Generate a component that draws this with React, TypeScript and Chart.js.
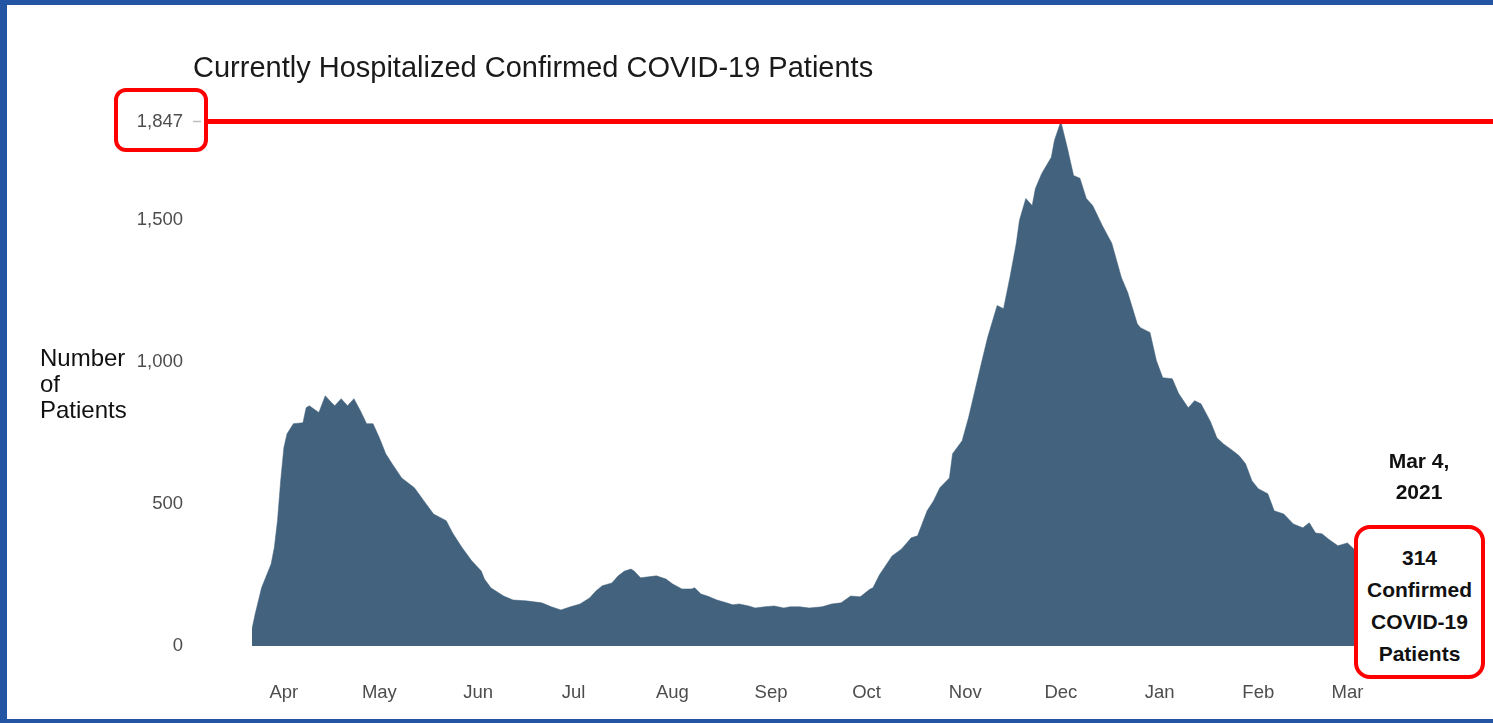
import React, { useEffect, useRef } from 'react';
import { Chart, registerables } from 'chart.js';

Chart.register(...registerables);

// Days counted from 2020-04-01 (day 0); data starts 2020-03-22, ends 2021-03-04
const dayOfSeason = [
  -10, -9, -7, -4, -3, -2, -1, 0, 1, 3, 6, 7, 8, 11, 13, 15, 16, 18, 20, 22, 24, 26, 28, 30, 32, 34, 37, 41, 44, 47,
  51, 53, 56, 59, 62, 63, 65, 69, 72, 76, 81, 84, 87, 90, 93, 96, 98, 100, 103, 105, 107, 109, 110, 112, 114,
  117, 120, 122, 125, 128, 129, 131, 133, 136, 139, 141, 143, 146, 148, 151, 154, 157, 159, 162, 165, 169, 172,
  175, 178, 181, 184, 185, 187, 191, 194, 197, 199, 202, 204, 206, 209, 210, 213, 215, 217, 219, 221, 224, 226,
  228, 230, 231, 233, 235, 236, 238, 241, 242, 244, 246, 248, 250, 252, 254, 257, 260, 263, 265, 268, 269, 272,
  274, 276, 279, 281, 284, 286, 288, 291, 293, 295, 298, 300, 302, 304, 306, 309, 311, 314, 317, 320, 322, 324,
  326, 328, 331, 334, 336, 337,
];

const hospitalized = [
  60, 113, 205, 289, 346, 441, 582, 698, 747, 783, 786, 839, 846, 822, 881, 857, 846, 871, 846, 871, 829, 783, 783, 733, 677, 642, 592, 557, 511, 465,
  441, 398, 346, 300, 264, 236, 205, 176, 162, 159, 152, 138, 127, 138, 148, 169, 194, 212, 222, 247, 264, 271, 264, 240, 243,
  247, 236, 219, 201, 201, 205, 183, 176, 162, 152, 145, 148, 141, 134, 138, 141, 134, 138, 138, 134, 138, 148,
  152, 176, 173, 200, 205, 250, 317, 342, 381, 388, 476, 511, 557, 592, 677, 723, 804, 899, 994, 1086, 1199, 1188,
  1298, 1418, 1499, 1576, 1551, 1611, 1664, 1721, 1781, 1847, 1756, 1657, 1647, 1576, 1551, 1481, 1418, 1298, 1245, 1135, 1121, 1104,
  1005, 945, 941, 889, 839, 864, 853, 790, 733, 712, 688, 670, 642, 582, 554, 536, 476, 465, 430, 416, 434, 398,
  395, 377, 353, 363, 342, 314,
];

const monthStartDays = [0, 30, 61, 91, 122, 153, 183, 214, 244, 275, 306, 334];
const monthLabels = ['Apr', 'May', 'Jun', 'Jul', 'Aug', 'Sep', 'Oct', 'Nov', 'Dec', 'Jan', 'Feb', 'Mar'];
const yTickValues = [0, 500, 1000, 1500, 1847];
const peakValue = 1847;
const latestValue = 314;

const FONT = '"Liberation Sans", Arial, Helvetica, sans-serif';
const OFFX = 7;
const OFFY = 5;

export default function App() {
  const ref = useRef<HTMLCanvasElement | null>(null);

  useEffect(() => {
    if (!ref.current) return;
    const peakLine = {
      id: 'peakLine',
      afterDatasetsDraw(chart: any) {
        const { ctx } = chart;
        const y = chart.scales.y.getPixelForValue(peakValue);
        ctx.save();
        ctx.strokeStyle = '#ff0000';
        ctx.lineWidth = 5;
        ctx.beginPath();
        ctx.moveTo(208 - OFFX, y);
        ctx.lineTo(chart.width, y);
        ctx.stroke();
        ctx.strokeStyle = '#bdbdbd';
        ctx.lineWidth = 1.5;
        ctx.beginPath();
        ctx.moveTo(193 - OFFX, y);
        ctx.lineTo(201 - OFFX, y);
        ctx.stroke();
        ctx.restore();
      },
    };

    const chart = new Chart(ref.current, {
      type: 'line',
      data: {
        datasets: [
          {
            data: dayOfSeason.map((d, i) => ({ x: d, y: hospitalized[i] })),
            fill: 'origin',
            backgroundColor: '#43627d',
            borderColor: '#43627d',
            borderWidth: 0.5,
            pointRadius: 0,
            tension: 0,
          },
        ],
      },
      options: {
        animation: false,
        responsive: false,
        layout: { padding: { left: 125, right: 136, top: 116.5, bottom: 0 } },
        plugins: { legend: { display: false }, tooltip: { enabled: false }, title: { display: false } },
        scales: {
          x: {
            type: 'linear',
            min: -10,
            max: 337,
            grid: { display: false, drawTicks: false },
            border: { display: false },
            afterFit: (s: any) => {
              s.height = 73;
            },
            afterBuildTicks: (s: any) => {
              s.ticks = monthStartDays.map((v) => ({ value: v }));
            },
            ticks: {
              autoSkip: false,
              maxRotation: 0,
              padding: 36,
              color: '#4d4d4d',
              font: { family: FONT, size: 18.5 },
              callback: (v: any) => monthLabels[monthStartDays.indexOf(Number(v))] ?? '',
            },
          },
          y: {
            min: 0,
            max: peakValue,
            grid: {
              display: true,
              drawOnChartArea: false,
              drawTicks: true,
              tickLength: 69,
              color: 'rgba(0,0,0,0)',
              tickColor: 'rgba(0,0,0,0)',
            },
            border: { display: false },
            afterFit: (s: any) => {
              s.width = 120;
            },
            afterBuildTicks: (s: any) => {
              s.ticks = yTickValues.map((v) => ({ value: v }));
            },
            ticks: {
              padding: 0,
              color: '#4d4d4d',
              font: { family: FONT, size: 18.5 },
              callback: (v: any) => Number(v).toLocaleString('en-US'),
            },
          },
        },
      },
      plugins: [peakLine],
    });
    return () => chart.destroy();
  }, []);

  const bold: React.CSSProperties = {
    position: 'absolute',
    fontFamily: FONT,
    fontWeight: 'bold',
    fontSize: 21,
    color: '#111',
    textAlign: 'center',
    whiteSpace: 'nowrap',
  };

  return (
    <div style={{ position: 'absolute', left: 0, top: 0, width: 1493, height: 723, background: '#2454a4', overflow: 'hidden' }}>
      <div style={{ position: 'absolute', left: OFFX, top: OFFY, width: 1493 - OFFX, height: 723 - OFFY - 4, background: '#fff' }}>
        <canvas ref={ref} width={1493 - OFFX} height={723 - OFFY - 4} style={{ display: 'block' }} />
      </div>
      <div style={{ position: 'absolute', left: 193, top: 53, fontFamily: FONT, fontSize: 29, lineHeight: '29px', color: '#1a1a1a', whiteSpace: 'nowrap' }}>
        Currently Hospitalized Confirmed COVID-19 Patients
      </div>
      <div style={{ position: 'absolute', left: 40, top: 344.5, fontFamily: FONT, fontSize: 24, lineHeight: '26px', color: '#111' }}>
        Number<br />of<br />Patients
      </div>
      <div style={{ position: 'absolute', left: 114, top: 88, width: 94, height: 64, boxSizing: 'border-box', border: '4px solid #ff0000', borderRadius: 12 }} />
      <div style={{ ...bold, left: 1359, top: 444.75, width: 120, lineHeight: '31.5px' }}>
        Mar 4,<br />2021
      </div>
      <div style={{ position: 'absolute', left: 1354, top: 525, width: 131, height: 154, boxSizing: 'border-box', border: '4px solid #ff0000', borderRadius: 16, background: '#fff' }} />
      <div style={{ ...bold, left: 1354, top: 542, width: 131, lineHeight: '32px' }}>
        {latestValue}<br />Confirmed<br />COVID-19<br />Patients
      </div>
    </div>
  );
}
